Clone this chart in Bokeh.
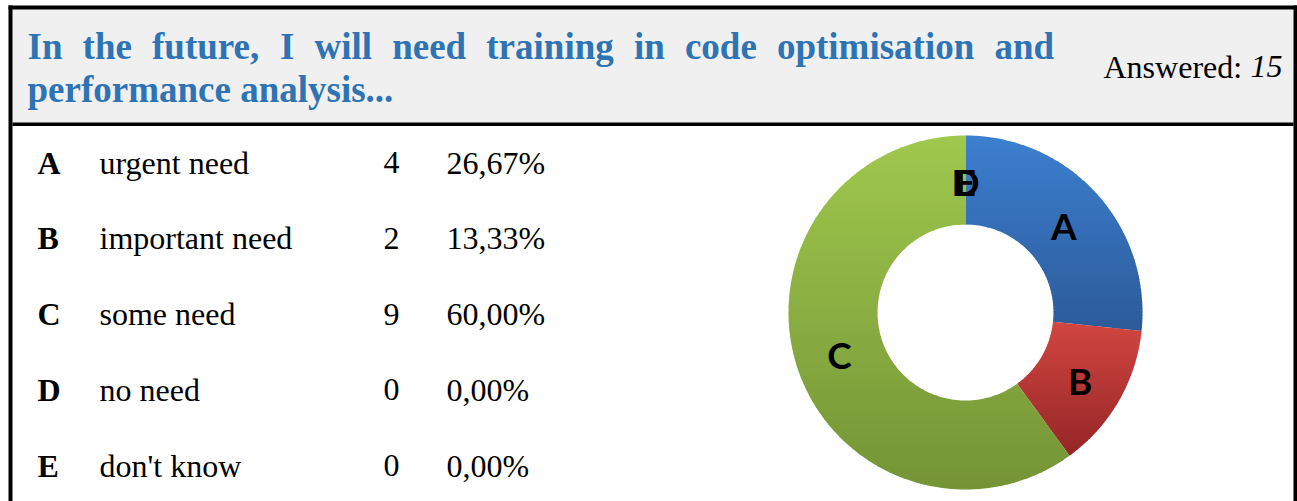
import math
from bokeh.plotting import figure
from bokeh.models import Range1d, ColumnDataSource
from bokeh.core.properties import value
from bokeh.embed import file_html
from bokeh.resources import INLINE

# ---------------- data ----------------
title_line1 = ["In", "the", "future,", "I", "will", "need", "training",
               "in", "code", "optimisation", "and"]
title_line2 = "performance analysis..."
answered = 15
letters = ["A", "B", "C", "D", "E"]
answers = ["urgent need", "important need", "some need", "no need", "don't know"]
counts = [4, 2, 9, 0, 0]

# ---------------- layout (reference pixel space) ----------------
W, H = 1297, 501
TXT_SHIFT = 12  # baseline correction for text glyphs

def Y(v):
    return -v

def TY(v):
    return -(v - TXT_SHIFT)

p = figure(width=W, height=H, x_range=Range1d(0, W), y_range=Range1d(-H, 0),
           output_backend="svg", toolbar_location=None, min_border=0,
           x_axis_location=None, y_axis_location=None)
p.grid.visible = False
p.outline_line_color = None
p.background_fill_color = "white"
p.border_fill_color = "white"

SERIF = value("Liberation Serif")

# header background and frame
p.quad(left=[12], right=[1293], top=[Y(9)], bottom=[Y(122)], fill_color="#f0f0f0", line_color=None)
p.quad(left=[8, 1293, 8, 12], right=[12, 1297, 1297, 1293],
       top=[Y(5), Y(5), Y(5), Y(122)], bottom=[Y(501), Y(501), Y(9), Y(125.5)],
       fill_color="black", line_color=None)

# title (justified first line)
title_x = [27, 82.1, 151.5, 279.5, 314.0, 391.7, 485.8, 633.4, 684.4, 776.4, 993.9]
title_size = "37px"
p.text(x=title_x, y=[TY(58)] * len(title_line1), text=title_line1,
       text_font=SERIF, text_font_size=title_size, text_font_style="bold",
       text_color="#2e74b5", text_baseline="alphabetic", text_align="left")
p.text(x=[27], y=[TY(101)], text=[title_line2],
       text_font=SERIF, text_font_size=title_size, text_font_style="bold",
       text_color="#2e74b5", text_baseline="alphabetic", text_align="left")

body_size = "32px"
p.text(x=[1103], y=[TY(78)], text=["Answered:"], text_font=SERIF,
       text_font_size=body_size, text_color="black", text_baseline="alphabetic")
p.text(x=[1250], y=[TY(78)], text=[str(answered)], text_font=SERIF,
       text_font_size=body_size, text_font_style="italic", text_color="black",
       text_baseline="alphabetic")

# table rows
total = sum(counts)
pcts = [f"{c / total * 100:.2f}%".replace(".", ",") for c in counts]
row_y = [TY(174 + i * 75.75) for i in range(len(letters))]
tsrc = ColumnDataSource(dict(y=row_y, letter=letters, answer=answers,
                             count=[str(c) for c in counts], pct=pcts))
p.text(x=37, y="y", text="letter", source=tsrc, text_font=SERIF, text_font_size=body_size,
       text_font_style="bold", text_color="black", text_baseline="alphabetic")
p.text(x=99, y="y", text="answer", source=tsrc, text_font=SERIF, text_font_size=body_size,
       text_color="black", text_baseline="alphabetic")
p.text(x=391, y="y", text="count", source=tsrc, text_font=SERIF, text_font_size=body_size,
       text_color="black", text_baseline="alphabetic", text_align="center")
p.text(x=446, y="y", text="pct", source=tsrc, text_font=SERIF, text_font_size=body_size,
       text_color="black", text_baseline="alphabetic")

# ---------------- donut with vertical gradients ----------------
cx, cy = 965, Y(312)
r_out, r_in = 177, 88

grad = {
    "A": ((60, 127, 208), (44, 91, 153)),
    "B": ((210, 70, 65), (148, 38, 38)),
    "C": ((160, 200, 77), (116, 148, 54)),
}

def pt(r, t):
    a = math.radians(t)
    return (cx + r * math.sin(a), cy + r * math.cos(a))

def slice_poly(t0, t1):
    n = max(int(abs(t1 - t0) / 1.5), 2)
    outer = [pt(r_out, t0 + (t1 - t0) * k / n) for k in range(n + 1)]
    inner = [pt(r_in, t1 - (t1 - t0) * k / n) for k in range(n + 1)]
    return outer + inner

def clip_half(poly, inside, cut):
    out = []
    for i in range(len(poly)):
        cur, prev = poly[i], poly[i - 1]
        if inside(cur):
            if not inside(prev):
                out.append(cut(prev, cur))
            out.append(cur)
        elif inside(prev):
            out.append(cut(prev, cur))
    return out

def cut_at(c):
    def f(a, b):
        t = (c - a[1]) / (b[1] - a[1])
        return (a[0] + t * (b[0] - a[0]), c)
    return f

def mix(c0, c1, t):
    return "#%02x%02x%02x" % tuple(int(round(c0[i] + (c1[i] - c0[i]) * t)) for i in range(3))

xs, ys, cols = [], [], []
cum = 0
for lab, c in zip(letters, counts):
    t0 = cum / total * 360
    cum += c
    t1 = cum / total * 360
    if c == 0:
        continue
    poly = slice_poly(t0, t1)
    top = max(q[1] for q in poly)
    bot = min(q[1] for q in poly)
    nstrip = 60
    step = (top - bot) / nstrip
    c0, c1 = grad[lab]
    for k in range(nstrip):
        yt = top - k * step
        yb = yt - step - 0.8
        part = clip_half(poly, lambda q, yb=yb: q[1] >= yb, cut_at(yb))
        if not part:
            continue
        part = clip_half(part, lambda q, yt=yt: q[1] <= yt, cut_at(yt))
        if len(part) < 3:
            continue
        xs.append([q[0] for q in part])
        ys.append([q[1] for q in part])
        cols.append(mix(c0, c1, (k + 0.5) / nstrip))

p.patches(xs="xs", ys="ys", fill_color="col", line_color=None,
          source=ColumnDataSource(dict(xs=xs, ys=ys, col=cols)))

# slice labels
lab_x, lab_y = [], []
cum = 0
r_mid = (r_out + r_in) / 2
lab_size = 37
for c in counts:
    tm = (cum + c / 2) / total * 360
    cum += c
    x, y = pt(r_mid, tm)
    lab_x.append(x)
    lab_y.append(y - 0.72 * lab_size / 2 + TXT_SHIFT)
p.text(x=lab_x, y=lab_y, text=letters, text_font=value("Lato"),
       text_font_size=f"{lab_size}px", text_font_style="bold",
       text_color="black", text_align="center", text_baseline="alphabetic")

open("out.html", "w").write(file_html(p, INLINE))
